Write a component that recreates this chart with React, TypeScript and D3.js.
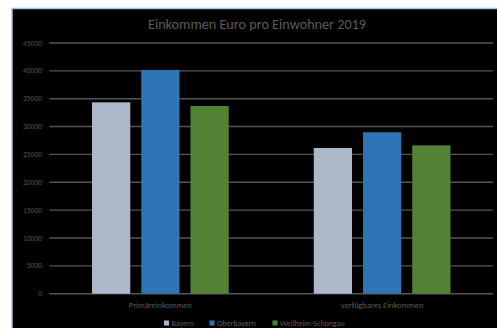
import React from "react";
import * as d3 from "d3";

const categories = ["Primäreinkommen", "verfügbares Einkommen"];
const seriesNames = ["Bayern", "Oberbayern", "Weilheim-Schongau"];
const bayern = [34350, 26150];
const oberbayern = [40150, 28970];
const weilheim = [33690, 26630];
const yTicks = [0, 5000, 10000, 15000, 20000, 25000, 30000, 35000, 40000, 45000];
const colors = ["#adb9ca", "#2e75b6", "#548235"];

export default function App() {
  const W = 497, H = 328;
  const x0 = d3.scaleBand().domain(categories).range([49.5, 493]);
  const x1 = d3.scaleBand().domain(seriesNames).range([0, x0.bandwidth()]).paddingInner(0.223).paddingOuter(0.864);
  const y = d3.scaleLinear().domain([0, 45000]).range([293.7, 43]);
  const series = [bayern, oberbayern, weilheim];
  const font = "Carlito, Calibri, 'Open Sans', 'Liberation Sans', sans-serif";
  const legendX = [164, 209.5, 272.5];
  return (
    <svg width={W} height={H} style={{ position: "absolute", left: 0, top: 0 }} fontFamily={font}>
      <rect x={0} y={0} width={W} height={H} fill="#ffffff" />
      <rect x={12} y={8.5} width={W + 50} height={H + 50} fill="#000000" stroke="#9dc3e6" strokeWidth={1.5} />
      <text x={257} y={29} textAnchor="middle" fontSize={14.2} fill="#5c5c5c">
        Einkommen Euro pro Einwohner 2019
      </text>
      {yTicks.map((t) => (
        <g key={t}>
          <line x1={49.5} x2={493} y1={y(t)} y2={y(t)} stroke="#555555" strokeWidth={1.4} />
          <text x={42} y={y(t) + 2.6} textAnchor="end" fontSize={7.5} fill="#505050">{t}</text>
        </g>
      ))}
      {categories.map((c, ci) => (
        <g key={c}>
          {series.map((s, si) => (
            <rect
              key={si}
              x={(x0(c) as number) + (x1(seriesNames[si]) as number)}
              y={y(s[ci])}
              width={x1.bandwidth()}
              height={y(0) - y(s[ci])}
              fill={colors[si]}
            />
          ))}
          <text x={(x0(c) as number) + x0.bandwidth() / 2} y={308} textAnchor="middle" fontSize={8.4} fill="#5c5c5c">{c}</text>
        </g>
      ))}
      {seriesNames.map((n, i) => (
        <g key={n}>
          <rect x={legendX[i]} y={320.5} width={5} height={5} fill={colors[i]} />
          <text x={legendX[i] + 7.5} y={326} fontSize={8} fill="#5c5c5c">{n}</text>
        </g>
      ))}
    </svg>
  );
}
